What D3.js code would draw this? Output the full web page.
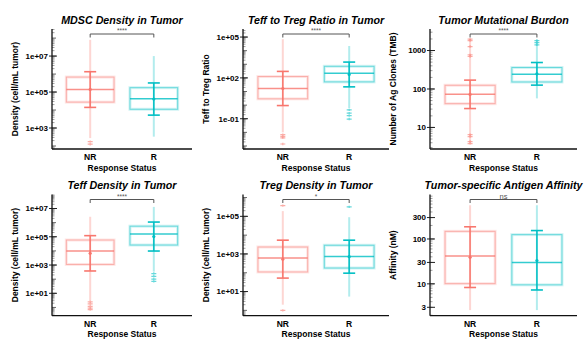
<!DOCTYPE html>
<html>
<head>
<meta charset="utf-8">
<script src="https://cdn.jsdelivr.net/npm/d3@7"></script>
<style>
  body { margin: 0; background: #fff; }
  text { font-family: "Liberation Sans", Arial, sans-serif; }
</style>
</head>
<body>
<svg id="chart" width="584" height="339"></svg>
<script>
// chart data, one entry per panel, each pair is [NR, R]
var groups = ["NR", "R"];
var titles = ["MDSC Density in Tumor", "Teff to Treg Ratio in Tumor", "Tumor Mutational Burdon",
  "Teff Density in Tumor", "Treg Density in Tumor", "Tumor-specific Antigen Affinity"];
var yLabels = ["Density (cell/mL tumor)", "Teff to Treg Ratio", "Number of Ag Clones (TMB)",
  "Density (cell/mL tumor)", "Density (cell/mL tumor)", "Affinity (nM)"];
var sigLabels = ["****", "****", "****", "****", "*", "ns"];

var yDomains = [[68, 3.2e8], [6e-4, 3.9e5], [2.75, 3630], [0.26, 9.8e7], [0.52, 1.45e6], [1.95, 980]];
var tickValues = [[1e3, 1e5, 1e7], [0.1, 100, 1e5], [10, 100, 1000], [10, 1e3, 1e5, 1e7], [10, 1e3, 1e5], [3, 10, 30, 100, 300]];
var tickLabels = [["1e+03", "1e+05", "1e+07"], ["1e-01", "1e+02", "1e+05"], ["10", "100", "1000"],
  ["1e+01", "1e+03", "1e+05", "1e+07"], ["1e+01", "1e+03", "1e+05"], ["3", "10", "30", "100", "300"]];

var q1 = [[2.75e4, 1.1e4], [2.9, 51], [41.5, 152], [1.1e3, 2.6e4], [110, 178], [10.1, 9.5]];
var median = [[1.4e5, 4.3e4], [17, 220], [73, 241], [9.8e3, 1.55e5], [617, 740], [42, 30]];
var q3 = [[6.8e5, 1.75e5], [126, 710], [125, 362], [5.9e4, 5.6e5], [2340, 2900], [148, 125]];
var meanVal = [[1.4e5, 4.1e4], [16.6, 178], [72, 248], [6.7e3, 1.04e5], [530, 716], [39, 33]];
var capLo = [[1.4e4, 5.2e3], [0.93, 22], [31, 126], [380, 9.8e3], [52, 95], [8.3, 7.3]];
var capHi = [[1.35e6, 3.2e5], [300, 1450], [170, 488], [1.2e5, 1.1e6], [5400, 5400], [187, 154]];
var rangeLo = [[275, 330], [0.01, 0.6], [3.8, 57], [3, 340], [2, 5.4], [2.6, 2.6]];
var rangeHi = [[8e7, 1e7], [7e4, 2.2e4], [2000, 1900], [2.6e6, 1.3e7], [1.9e5, 9e4], [565, 565]];
var outliers = [
  [[174, 126], []],
  [[0.0068, 0.005, 0.004, 0.0014], [0.45, 0.26, 0.17, 0.095]],
  [[1980, 1820, 1270, 773, 700, 6.5, 5.8, 4.3, 3.8], [1820, 1610, 1410]],
  [[2.5, 1.8, 1.2, 0.9, 0.7], [250, 160, 100, 70]],
  [[3.7e5, 1.0], [3.2e5]],
  [[], []]
];

var colors = ["#F8766D", "#00BFC4"];

var svg = d3.select("#chart");
var colLeft = [52, 243, 430], colRight = [192, 389, 577];
var rowTop = [29, 194.5], rowBottom = [149, 315.7];

titles.forEach(function(title, p) {
  var col = p % 3, row = Math.floor(p / 3);
  var left = colLeft[col], right = colRight[col], top = rowTop[row], bottom = rowBottom[row];

  var x = d3.scalePoint().domain(groups).range([left, right]).padding(0.6);
  var y = d3.scaleLog().domain(yDomains[p]).range([bottom, top]);
  var bw = x.step() * 0.75;
  var g = svg.append("g");

  // title
  g.append("text")
    .attr("x", (left + right) / 2)
    .attr("y", top - 5.5)
    .attr("text-anchor", "middle")
    .attr("font-size", 10.7)
    .attr("font-weight", "bold")
    .attr("font-style", "italic")
    .text(title);

  // minor log ticks
  var lo = Math.floor(Math.log10(yDomains[p][0])), hi = Math.ceil(Math.log10(yDomains[p][1]));
  var minor = [];
  for (var e = lo; e <= hi; e++) {
    for (var m = 1; m < 10; m++) {
      var v = m * Math.pow(10, e);
      if (v >= yDomains[p][0] && v <= yDomains[p][1]) minor.push({ v: v, dec: m == 1 });
    }
  }
  g.selectAll(".minor")
    .data(minor)
    .enter()
    .append("line")
    .attr("x1", left)
    .attr("x2", function(d) { return left + (d.dec ? 4 : 2.5); })
    .attr("y1", function(d) { return y(d.v); })
    .attr("y2", function(d) { return y(d.v); })
    .attr("stroke", function(d) { return d.dec ? "#444" : "#888"; })
    .attr("stroke-width", 0.8);

  // major ticks and labels
  g.selectAll(".major")
    .data(tickValues[p])
    .enter()
    .append("line")
    .attr("x1", left - 3)
    .attr("x2", left + 5)
    .attr("y1", function(d) { return y(d); })
    .attr("y2", function(d) { return y(d); })
    .attr("stroke", "#222")
    .attr("stroke-width", 1);
  g.selectAll(".tlab")
    .data(tickValues[p])
    .enter()
    .append("text")
    .attr("x", left - 4)
    .attr("y", function(d) { return y(d); })
    .attr("dy", "0.35em")
    .attr("text-anchor", "end")
    .attr("font-size", 8)
    .attr("font-weight", "bold")
    .text(function(d, i) { return tickLabels[p][i]; });

  // axes lines
  g.append("line")
    .attr("x1", left).attr("x2", left)
    .attr("y1", top).attr("y2", bottom)
    .attr("stroke", "#111").attr("stroke-width", 1.3);
  g.append("line")
    .attr("x1", left).attr("x2", right)
    .attr("y1", bottom).attr("y2", bottom)
    .attr("stroke", "#111").attr("stroke-width", 1.3);

  // axis labels
  g.append("text")
    .attr("transform", "translate(" + (left - 34) + "," + ((top + bottom) / 2) + ") rotate(-90)")
    .attr("text-anchor", "middle")
    .attr("font-size", 8.5)
    .attr("font-weight", "bold")
    .text(yLabels[p]);
  g.selectAll(".xlab")
    .data(groups)
    .enter()
    .append("text")
    .attr("x", function(d) { return x(d); })
    .attr("y", bottom + 11)
    .attr("text-anchor", "middle")
    .attr("font-size", 8.5)
    .attr("font-weight", "bold")
    .text(function(d) { return d; });
  g.append("text")
    .attr("x", (left + right) / 2)
    .attr("y", bottom + 21.5)
    .attr("text-anchor", "middle")
    .attr("font-size", 8.5)
    .attr("font-weight", "bold")
    .text("Response Status");

  // boxes
  groups.forEach(function(grp, i) {
    var cx = x(grp), c = colors[i];
    g.append("line")
      .attr("x1", cx).attr("x2", cx)
      .attr("y1", y(rangeLo[p][i])).attr("y2", y(rangeHi[p][i]))
      .attr("stroke", c).attr("stroke-opacity", 0.3).attr("stroke-width", 2);
    g.append("rect")
      .attr("x", cx - bw / 2).attr("width", bw)
      .attr("y", y(q3[p][i])).attr("height", y(q1[p][i]) - y(q3[p][i]))
      .attr("fill", "none")
      .attr("stroke", c).attr("stroke-opacity", 0.18).attr("stroke-width", 3);
    g.append("rect")
      .attr("x", cx - bw / 2).attr("width", bw)
      .attr("y", y(q3[p][i])).attr("height", y(q1[p][i]) - y(q3[p][i]))
      .attr("fill", "none")
      .attr("stroke", c).attr("stroke-opacity", 0.5).attr("stroke-width", 1);
    g.append("line")
      .attr("x1", cx - bw / 2).attr("x2", cx + bw / 2)
      .attr("y1", y(median[p][i])).attr("y2", y(median[p][i]))
      .attr("stroke", c).attr("stroke-opacity", 0.8).attr("stroke-width", 1.5);
    // mean +/- error bar
    g.append("line")
      .attr("x1", cx).attr("x2", cx)
      .attr("y1", y(capLo[p][i])).attr("y2", y(capHi[p][i]))
      .attr("stroke", c).attr("stroke-width", 1.5);
    [capLo[p][i], capHi[p][i]].forEach(function(v) {
      g.append("line")
        .attr("x1", cx - 6).attr("x2", cx + 6)
        .attr("y1", y(v)).attr("y2", y(v))
        .attr("stroke", c).attr("stroke-width", 1.6);
    });
    g.append("circle")
      .attr("cx", cx).attr("cy", y(meanVal[p][i])).attr("r", 1.6)
      .attr("fill", c);
    g.selectAll(".out" + i)
      .data(outliers[p][i])
      .enter()
      .append("path")
      .attr("transform", function(d) { return "translate(" + cx + "," + y(d) + ")"; })
      .attr("d", "M-2.5,0H2.5M0,-1.2V1.2")
      .attr("stroke", c).attr("stroke-opacity", 0.6).attr("stroke-width", 1.2);
  });

  // significance bracket
  var by = top + 5, x1 = x(groups[0]), x2 = x(groups[1]);
  g.append("path")
    .attr("d", "M" + x1 + "," + (by + 3.5) + "V" + by + "H" + x2 + "V" + (by + 3.5))
    .attr("fill", "none")
    .attr("stroke", "#555")
    .attr("stroke-width", 1);
  g.append("text")
    .attr("x", (x1 + x2) / 2)
    .attr("y", by - 1)
    .attr("text-anchor", "middle")
    .attr("font-size", sigLabels[p] == "ns" ? 7.5 : 6.5)
    .attr("fill", "#555")
    .text(sigLabels[p]);
});
</script>
</body>
</html>
